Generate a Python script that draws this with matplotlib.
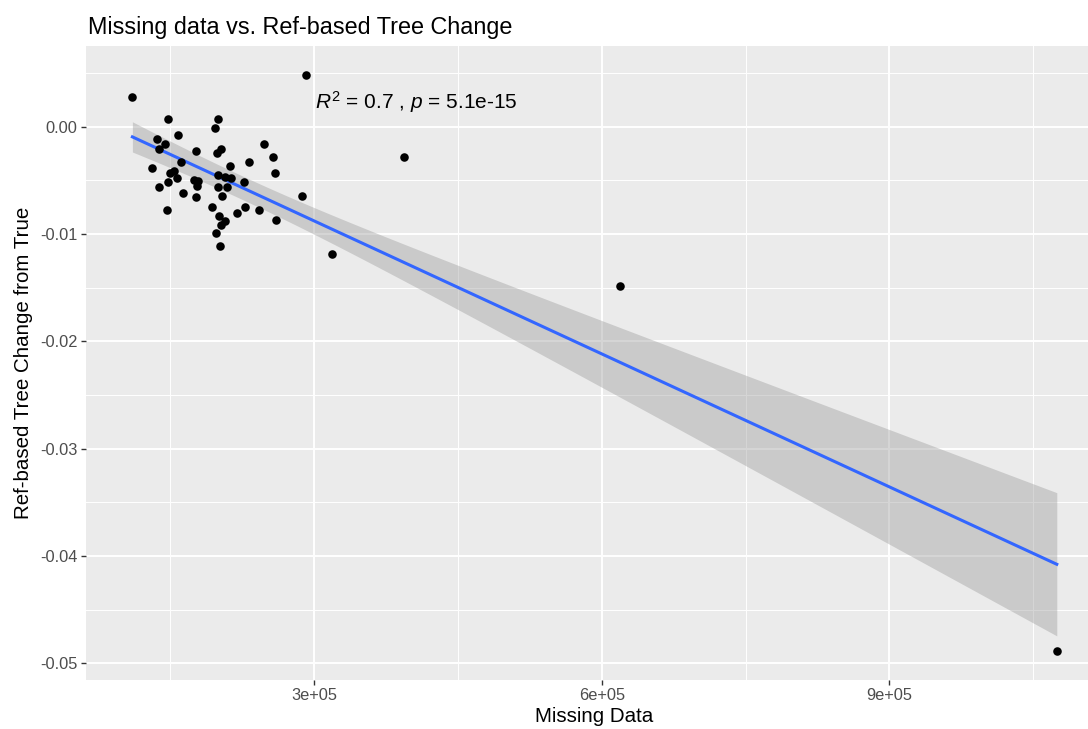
import numpy as np
import matplotlib
matplotlib.use('Agg')
import matplotlib.pyplot as plt
from matplotlib.ticker import FixedLocator, FuncFormatter

plt.rcParams['font.family'] = ['Liberation Sans', 'DejaVu Sans']
plt.rcParams['mathtext.fontset'] = 'custom'
plt.rcParams['mathtext.rm'] = 'Liberation Sans'
plt.rcParams['mathtext.it'] = 'Liberation Sans:italic'

# values
missing_data = [
    110600, 147800, 199900, 196800, 158200, 136600, 145000, 138400, 177000,
    202700, 199200, 247900, 257600, 232200, 161600, 131400, 212100, 259600,
    149500, 154000, 199900, 206900, 213800, 157500, 174900, 179000, 226700,
    147800, 177700, 199900, 209000, 138100, 163400, 203800, 177300, 287200,
    146700, 194000, 228400, 243000, 219700, 200900, 207200, 260000, 202700,
    197500, 201700, 291600, 393800, 319100, 619600, 1074600,
]
tree_change = [
    0.00277, 0.00075, 0.00069, -0.00015, -0.00077, -0.00117, -0.00161, -0.00211,
    -0.00224, -0.00208, -0.00242, -0.00158, -0.00280, -0.00329, -0.00329,
    -0.00382, -0.00369, -0.00432, -0.00429, -0.00413, -0.00450, -0.00466,
    -0.00475, -0.00481, -0.00497, -0.00503, -0.00518, -0.00518, -0.00550,
    -0.00562, -0.00559, -0.00559, -0.00615, -0.00643, -0.00652, -0.00649,
    -0.00774, -0.00746, -0.00746, -0.00774, -0.00802, -0.00829, -0.00879,
    -0.00870, -0.00919, -0.00988, -0.01109, 0.00479, -0.00285, -0.01188,
    -0.01482, -0.04882,
]
title = 'Missing data vs. Ref-based Tree Change'
stat_label = r'$\mathit{R}^2$ = 0.7 , $\mathit{p}$ = 5.1e-15'
x_ticks = [3e5, 6e5, 9e5]
y_ticks = [-0.05, -0.04, -0.03, -0.02, -0.01, 0.0]

x = np.array(missing_data, dtype=float)
y = np.array(tree_change)

# lm fit with 95% confidence band (like geom_smooth(method='lm'))
n = len(x)
slope, intercept = np.polyfit(x, y, 1)
resid = y - (slope * x + intercept)
s = np.sqrt(np.sum(resid ** 2) / (n - 2))
sxx = np.sum((x - x.mean()) ** 2)
xs = np.linspace(x.min(), x.max(), 200)
fit = slope * xs + intercept
se = s * np.sqrt(1 / n + (xs - x.mean()) ** 2 / sxx)
t_crit = 2.0086  # t(0.975, df=50)

fig = plt.figure(figsize=(10.88, 7.29), dpi=100)
# panel runs past the right edge as in the (cropped) reference
ax = fig.add_axes([0.0792, 0.0678, 0.9346, 0.8685])
ax.set_facecolor('#EBEBEB')
for sp in ax.spines.values():
    sp.set_visible(False)

ax.fill_between(xs, fit - t_crit * se, fit + t_crit * se, color='#999999',
                alpha=0.4, linewidth=0, zorder=2)
ax.plot(xs, fit, color='#3366FF', linewidth=2.2, zorder=3)
ax.scatter(x, y, s=38, color='black', linewidths=0, zorder=4)

xr = x.max() - x.min()
yr = y.max() - y.min()
ax.set_xlim(x.min() - 0.05 * xr, x.min() - 0.05 * xr + 1.0604e6)
ax.set_ylim(y.min() - 0.05 * yr, y.max() + 0.05 * yr)

ax.xaxis.set_major_locator(FixedLocator(x_ticks))
ax.xaxis.set_minor_locator(FixedLocator([1.5e5, 4.5e5, 7.5e5, 1.05e6]))
ax.yaxis.set_major_locator(FixedLocator(y_ticks))
ax.yaxis.set_minor_locator(FixedLocator([-0.045, -0.035, -0.025, -0.015, -0.005, 0.005]))
ax.xaxis.set_major_formatter(FuncFormatter(lambda v, p: '%.0e' % v))
ax.yaxis.set_major_formatter(FuncFormatter(lambda v, p: '%.2f' % v))

ax.grid(which='major', color='white', linewidth=1.4, zorder=0)
ax.grid(which='minor', color='white', linewidth=0.7, zorder=0)
ax.set_axisbelow(True)
ax.tick_params(which='major', length=3.7, width=1.0, color='#333333',
               labelcolor='#4D4D4D', labelsize=11.8, pad=2.5)
ax.tick_params(which='minor', length=0)

ax.set_xlabel('Missing Data', fontsize=14.8, labelpad=3)
ax.set_ylabel('Ref-based Tree Change from True', fontsize=14.8, labelpad=5)
ax.set_title(title, loc='left', fontsize=16.8, pad=9, x=0.002)

ax.text(301000, 0.00233, stat_label, fontsize=15, ha='left', va='center',
        zorder=5)

fig.savefig('out.png', dpi=100)
